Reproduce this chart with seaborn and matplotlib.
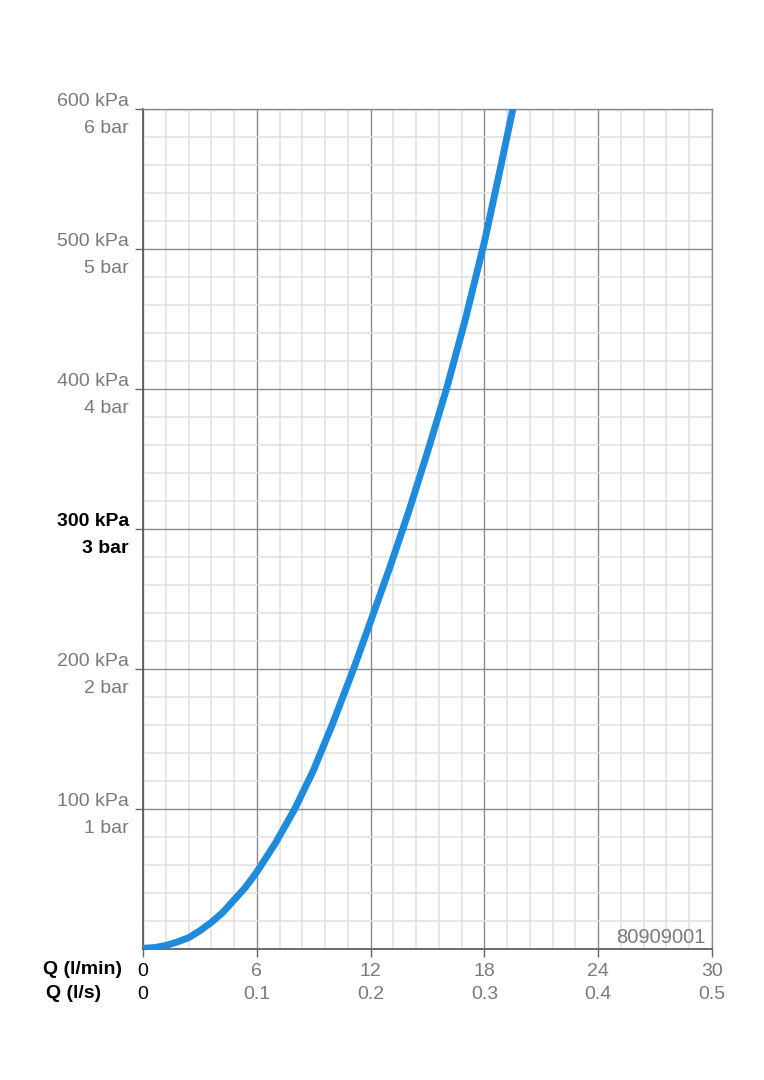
import matplotlib
matplotlib.use("Agg")
import matplotlib.pyplot as plt
import matplotlib.transforms as mtransforms
import seaborn as sns
import pandas as pd
from matplotlib.ticker import MultipleLocator

# Data
flow_lpm = [0, 0.6, 1.2, 1.8, 2.4, 3.0, 3.6, 4.2, 4.8, 5.4, 6.0, 7.0, 8.0, 9.0, 10.0,
            11.1, 12.0, 13.0, 14.0, 15.0, 16.0, 17.0, 18.0, 18.8, 19.5]
pressure_kpa = [0.5, 1.0, 2.5, 5, 8, 13, 19, 26, 35, 44, 55, 76, 100, 128, 161,
                200, 234, 272, 312, 355, 400, 450, 505, 555, 600]

x_ticks = [0, 6, 12, 18, 24, 30]
x_labels_lpm = ["0", "6", "12", "18", "24", "30"]
x_labels_ls = ["0", "0.1", "0.2", "0.3", "0.4", "0.5"]
y_ticks = [100, 200, 300, 400, 500, 600]
y_labels = ["100 kPa\n1 bar", "200 kPa\n2 bar", "300 kPa\n3 bar",
            "400 kPa\n4 bar", "500 kPa\n5 bar", "600 kPa\n6 bar"]
code_label = "80909001"

sns.set_theme(style="white")
plt.rcParams['font.family'] = ['Liberation Sans', 'DejaVu Sans']

fig = plt.figure(figsize=(7.64, 10.8), dpi=100)
ax = fig.add_axes([143/764, 1-949/1080, (712-143)/764, (949-109)/1080])

df = pd.DataFrame({"Q": flow_lpm, "P": pressure_kpa})
sns.lineplot(data=df, x="Q", y="P", ax=ax, color="#1E8BDD", linewidth=5.0,
             solid_capstyle="butt", solid_joinstyle="round", zorder=5)

ax.set_xlim(0, 30)
ax.set_ylim(0, 600)
ax.xaxis.set_minor_locator(MultipleLocator(1.2))
ax.yaxis.set_minor_locator(MultipleLocator(20))
ax.set_xticks(x_ticks)
ax.set_yticks(y_ticks)
ax.grid(which="minor", color="#e0e0e0", linewidth=1.1, zorder=0)
ax.grid(which="major", color="#8a8a8a", linewidth=1.0, zorder=1)
ax.set_axisbelow(True)

ax.set_xticklabels([f"{a}\n{b}" for a, b in zip(x_labels_lpm, x_labels_ls)],
                   linespacing=1.5)
ax.set_yticklabels(y_labels, linespacing=1.75)
ax.tick_params(axis="both", which="major", length=6, width=1, color="#666666",
               labelsize=14, labelcolor="#7a7a7a", pad=4, direction="out")
ax.tick_params(axis="both", which="minor", length=0)
ax.tick_params(axis="x", bottom=True)
ax.tick_params(axis="y", left=True)
shift = mtransforms.ScaledTranslation(0, -6/100, fig.dpi_scale_trans)
for i, lab in enumerate(ax.get_yticklabels()):
    lab.set_va("center")
    lab.set_ha("right")
    lab.set_transform(lab.get_transform() + shift)
    if y_ticks[i] == 300:
        lab.set_color("black")
        lab.set_fontweight("bold")
ax.get_xticklabels()[0].set_color("black")

ax.set_xlabel("")
ax.set_ylabel("")
for side in ["top", "right"]:
    ax.spines[side].set_color("#8a8a8a")
    ax.spines[side].set_linewidth(1.0)
for side in ["left", "bottom"]:
    ax.spines[side].set_color("#555555")
    ax.spines[side].set_linewidth(1.2)

ax.text(0.988, 0.0075, code_label, transform=ax.transAxes, ha="right", va="baseline",
        fontsize=14.5, color="#7a7a7a", zorder=6)

fig.text(43/764, 1-969/1080, "Q (l/min)", ha="left", va="center",
         fontsize=14, fontweight="bold", color="black")
fig.text(46/764, 1-993/1080, "Q (l/s)", ha="left", va="center",
         fontsize=14, fontweight="bold", color="black")

fig.savefig("out.png", dpi=100, facecolor="white")
